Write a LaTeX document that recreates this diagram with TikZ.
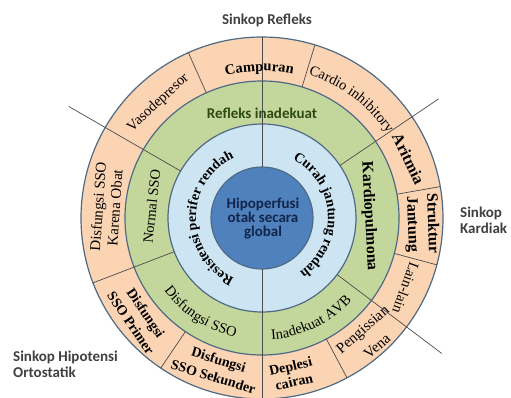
\documentclass[tikz,border=0pt]{standalone}
\usepackage{fontspec}
\setmainfont{Liberation Serif}
\newfontfamily\calfont{Carlito}
\usetikzlibrary{decorations.text}

\definecolor{peach}{HTML}{FBD4B4}
\definecolor{leaf}{HTML}{C3D69B}
\definecolor{sky}{HTML}{CDE4F2}
\definecolor{deep}{HTML}{4F81BD}
\definecolor{rim}{HTML}{4F6A84}
\definecolor{navy}{HTML}{12254A}
\definecolor{olive}{HTML}{2E4A14}
\definecolor{grey}{HTML}{404040}

\newcommand{\fs}[2]{\fontsize{#1}{#2}\selectfont}

\begin{document}
\begin{tikzpicture}
  [x=1pt,y=1pt,
   ring/.style={draw=rim,line width=1.2pt},
   split/.style={draw=black!70,line width=0.7pt},
   lab/.style={inner sep=0pt,align=center,font=\fs{14.5}{20}},
   labbf/.style={inner sep=0pt,align=center,font=\fs{14}{18}\bfseries},
   group/.style={inner sep=0pt,align=left,text=grey,font=\calfont\bfseries\fs{15}{16}},
   arctext/.style={decorate,decoration={text along path,text align=center,text={#1}}}]
  \useasboundingbox (-262,-179) rectangle (249,218);

  % rings
  \filldraw[fill=peach,ring] (0,0) circle (181);
  \filldraw[fill=leaf,ring] (0,0) circle (137);
  \filldraw[fill=sky,ring] (0,0) circle (94);

  \foreach \a/\r/\R in {150/94/223, 34/94/213, -37/94/225, 201/94/181,
                        90/51/181, -90/51/181, 114/137/181, 73/137/181,
                        10/137/181, -15/137/181, -62/137/181, -124/137/181}
    \draw[split] (\a:\r) -- (\a:\R);

  \filldraw[fill=deep,ring] (0,0) circle (51);

  % outer ring
  \node[lab,rotate=43] (vaso) at (132:155) {Vasodepresor};
  \path[arctext={|\fs{14.5}{14.5}\bfseries|Campuran}]
    (105:147) arc[start angle=105,end angle=77,radius=147];
  \path[arctext={|\fs{14.5}{14.5}|Cardio inhibitory}]
    (74:151) arc[start angle=74,end angle=32,radius=151];
  \node[labbf,font=\fs{16}{20}\bfseries,rotate=-64] (aritmia) at (22:158) {Aritmia};
  \node[labbf,font=\fs{16}{20}\bfseries,rotate=-88] (struktur) at (-2:160) {Struktur\\Jantung};
  \node[lab,rotate=-110] (lain) at (-26:160) {Lain-lain};
  \node[lab,font=\fs{15}{22},rotate=41] (pengisian) at (-48:161) {Pengissian\\Vena};
  \node[labbf,font=\fs{14}{16}\bfseries,rotate=13] (deplesi) at (-79:159) {Deplesi\\cairan};
  \node[labbf,rotate=-17] (sekunder) at (-107:157) {Disfungsi\\SSO Sekunder};
  \node[labbf,rotate=-56] (primer) at (-141:159) {Disfungsi\\SSO Primer};
  \node[lab,font=\fs{15}{17},rotate=86] (obat) at (176:156) {Disfungsi SSO\\Karena Obat};

  % middle ring
  \node[inner sep=0pt,text=olive,font=\calfont\bfseries\fs{15}{15}] (refleks) at (0,105) {Refleks inadekuat};
  \node[lab,rotate=84] (normal) at (174:111) {Normal SSO};
  \node[labbf,font=\fs{16}{16}\bfseries,rotate=-87] (kardio) at (1:107) {Kardiopulmona};
  \path[arctext={|\fs{14.5}{14.5}|Inadekuat AVB}]
    (-92:122) arc[start angle=-92,end angle=-36,radius=122];
  \path[arctext={|\fs{14.5}{14.5}|Disfungsi SSO}]
    (204:122) arc[start angle=204,end angle=270,radius=122];

  % inner ring
  \path[arctext={|\fs{14}{14}\bfseries|Resistensi perifer rendah}]
    (252:66) arc[start angle=252,end angle=108,radius=66];
  \path[arctext={|\fs{14}{14}\bfseries|Curah jantung rendah}]
    (64:66) arc[start angle=64,end angle=-57,radius=66];

  \node[inner sep=0pt,align=center,text=navy,font=\calfont\bfseries\fs{15}{14}] (hipo) at (1,-1)
    {Hipoperfusi\\otak secara\\global};

  % groups
  \node[group] (refleksgrp) at (5,198) {Sinkop Refleks};
  \node[group,anchor=west] (kardiak) at (198,-2) {Sinkop\\Kardiak};
  \node[group,anchor=west] (ortostatik) at (-249,-146) {Sinkop Hipotensi\\Ortostatik};
\end{tikzpicture}
\end{document}
